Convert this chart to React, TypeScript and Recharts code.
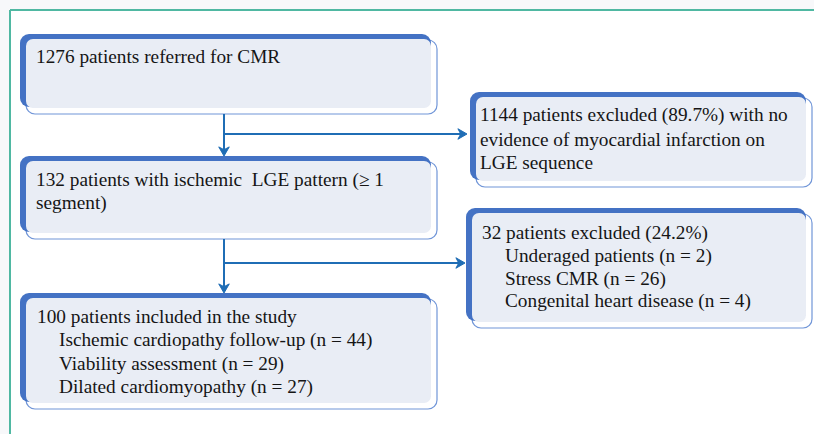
import React from "react";
import {
  ComposedChart,
  XAxis,
  YAxis,
  Scatter,
  ReferenceArea,
  ReferenceLine,
} from "recharts";

// Flowchart boxes (chart units = canvas coordinates)
const boxes = [
  { id: "referred", x1: 20, x2: 431, y1: 34, y2: 107 },
  { id: "ischemic", x1: 20, x2: 431, y1: 156, y2: 232 },
  { id: "included", x1: 20, x2: 431, y1: 293, y2: 402 },
  { id: "excluded1", x1: 470, x2: 806, y1: 92, y2: 180 },
  { id: "excluded2", x1: 466, x2: 806, y1: 208, y2: 321 },
];

// Text lines
const textLines = [
  { x: 36, y: 63, text: "1276 patients referred for CMR" },
  { x: 36, y: 186, text: "132 patients with ischemic  LGE pattern (\u2265 1" },
  { x: 36, y: 209, text: "segment)" },
  { x: 37, y: 323, text: "100 patients included in the study" },
  { x: 59, y: 346, text: "Ischemic cardiopathy follow-up (n = 44)" },
  { x: 59, y: 370, text: "Viability assessment (n = 29)" },
  { x: 59, y: 393, text: "Dilated cardiomyopathy (n = 27)" },
  { x: 480, y: 121, text: "1144 patients excluded (89.7%) with no" },
  { x: 480, y: 146, text: "evidence of myocardial infarction on" },
  { x: 480, y: 169, text: "LGE sequence" },
  { x: 482, y: 239, text: "32 patients excluded (24.2%)" },
  { x: 505, y: 262, text: "Underaged patients (n = 2)" },
  { x: 505, y: 285, text: "Stress CMR (n = 26)" },
  { x: 505, y: 307, text: "Congenital heart disease (n = 4)" },
];

// Connector segments
const connectors = [
  { from: { x: 224, y: 114 }, to: { x: 224, y: 152 } },
  { from: { x: 224, y: 134 }, to: { x: 462, y: 134 } },
  { from: { x: 224, y: 239 }, to: { x: 224, y: 289 } },
  { from: { x: 224, y: 263 }, to: { x: 460, y: 263 } },
];

// Arrowhead tips
const arrowHeads = [
  { x: 224, y: 156, dir: "down" },
  { x: 467, y: 134, dir: "right" },
  { x: 224, y: 293, dir: "down" },
  { x: 465, y: 263, dir: "right" },
];

const LINE_BLUE = "#1f6db5";
const BOX_BLUE = "#4472c4";
const FILL = "#e9edf5";
const OUTLINE = "#7196d8";

const BoxShape = (props: any) => {
  const { x, y, width, height } = props;
  return (
    <g>
      <rect
        x={x + 6}
        y={y + 6}
        width={width}
        height={height + 1}
        rx={9}
        ry={9}
        fill="#ffffff"
        stroke={OUTLINE}
        strokeWidth={1.2}
      />
      <rect x={x} y={y} width={width} height={height} rx={9} ry={9} fill={BOX_BLUE} />
      <rect
        x={x + 6}
        y={y + 5}
        width={width - 6}
        height={height - 4}
        rx={7}
        ry={7}
        fill={FILL}
      />
    </g>
  );
};

const TextShape = (props: any) => {
  const { cx, cy, payload } = props;
  return (
    <g>
      <text x={cx} y={cy} fontFamily="Liberation Serif" fontSize={19.3} fill="#151515" style={{ whiteSpace: "pre" }}>
        {payload.text}
      </text>
    </g>
  );
};

const ArrowShape = (props: any) => {
  const { cx, cy, payload } = props;
  const s = 7;
  const pts =
    payload.dir === "down"
      ? `${cx},${cy} ${cx - s * 0.75},${cy - s * 1.3} ${cx},${cy - s * 0.9} ${cx + s * 0.75},${cy - s * 1.3}`
      : `${cx},${cy} ${cx - s * 1.3},${cy - s * 0.75} ${cx - s * 0.9},${cy} ${cx - s * 1.3},${cy + s * 0.75}`;
  return <polygon points={pts} fill={LINE_BLUE} stroke={LINE_BLUE} strokeWidth={1} strokeLinejoin="round" />;
};

export default function App() {
  return (
    <div style={{ position: "absolute", left: 0, top: 0, width: 814, height: 434, background: "#f7f8fa" }}>
      <ComposedChart width={814} height={434} margin={{ top: 0, right: 0, bottom: 0, left: 0 }}>
        <XAxis type="number" dataKey="x" domain={[0, 814]} hide allowDataOverflow />
        <YAxis type="number" dataKey="y" domain={[0, 434]} reversed hide allowDataOverflow />
        <ReferenceArea x1={10} x2={814} y1={10} y2={434} fill="#ffffff" fillOpacity={1} stroke="none" ifOverflow="visible" />
        <ReferenceLine segment={[{ x: 10, y: 10 }, { x: 814, y: 10 }]} stroke="#4fb8a2" strokeWidth={2} ifOverflow="visible" />
        <ReferenceLine segment={[{ x: 10, y: 10 }, { x: 10, y: 434 }]} stroke="#4fb8a2" strokeWidth={2} ifOverflow="visible" />
        {connectors.map((c, i) => (
          <ReferenceLine
            key={`c${i}`}
            segment={[c.from, c.to]}
            stroke={LINE_BLUE}
            strokeWidth={2}
            ifOverflow="visible"
          />
        ))}
        {boxes.map((b) => (
          <ReferenceArea
            key={b.id}
            x1={b.x1}
            x2={b.x2}
            y1={b.y1}
            y2={b.y2}
            ifOverflow="visible"
            shape={BoxShape}
          />
        ))}
        <Scatter data={arrowHeads} shape={ArrowShape} isAnimationActive={false} />
        <Scatter data={textLines} shape={TextShape} isAnimationActive={false} />
      </ComposedChart>
    </div>
  );
}
